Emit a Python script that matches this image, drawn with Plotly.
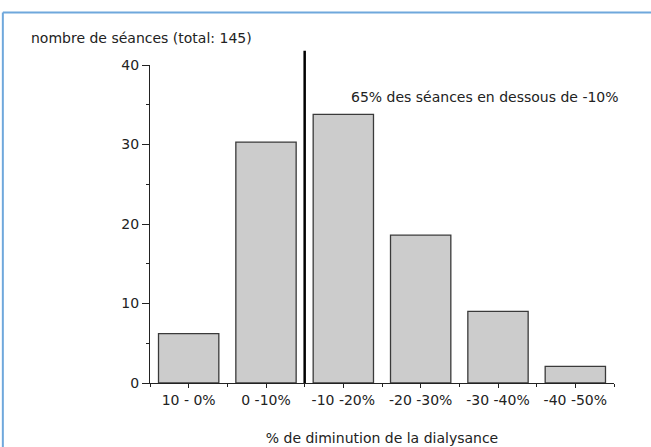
import plotly.graph_objects as go

categories = ["10 - 0%", "0 -10%", "-10 -20%", "-20 -30%", "-30 -40%", "-40 -50%"]
values = [6.2, 30.3, 33.8, 18.6, 9.0, 2.1]
y_ticks = [0, 10, 20, 30, 40]

FONT = "DejaVu Sans"
TXT = "#222222"
FS = 14

idx = list(range(len(categories)))

fig = go.Figure(go.Bar(
    x=idx, y=values,
    marker=dict(color="#cccccc", line=dict(color="#3a3a3a", width=1.3)),
    width=0.78,
    hoverinfo="skip",
))

W, H = 651, 447
L, R, T, B = 150.4, 37.4, 65.3, 64.3
pw, ph = W - L - R, H - T - B

def px_x(px):
    return (px - L) / pw

def px_y(py):
    return (H - B - py) / ph

frame = dict(color="#6fa8dc", width=2)

fig.update_layout(
    width=W, height=H,
    margin=dict(l=L, r=R, t=T, b=B, autoexpand=False),
    paper_bgcolor="white", plot_bgcolor="white",
    font=dict(family=FONT, size=FS, color=TXT),
    showlegend=False,
    title=dict(text="nombre de séances (total: 145)", xref="container", yref="container",
               x=31 / W, y=1 - 38 / H, xanchor="left", yanchor="middle",
               font=dict(family=FONT, size=FS, color=TXT)),
    xaxis=dict(
        range=[-0.5, len(categories) - 0.5],
        tickmode="array", tickvals=idx, ticktext=categories,
        ticks="outside", ticklen=4, tickwidth=1, tickcolor="#222",
        showline=True, linecolor="#222", linewidth=1,
        showgrid=False, zeroline=False,
        minor=dict(tickvals=[i - 0.5 for i in range(len(categories) + 1)],
                   ticks="outside", ticklen=3, tickcolor="#222", showgrid=False),
        tickfont=dict(family=FONT, size=FS, color=TXT),
        title=dict(text="% de diminution de la dialysance", standoff=26,
                   font=dict(family=FONT, size=FS, color=TXT)),
        fixedrange=True,
    ),
    yaxis=dict(
        range=[0, 40],
        tickmode="array", tickvals=y_ticks,
        ticks="outside", ticklen=7, tickwidth=1, tickcolor="#222",
        showline=True, linecolor="#222", linewidth=1,
        showgrid=False, zeroline=False,
        minor=dict(dtick=5, ticks="outside", ticklen=3, tickcolor="#222", showgrid=False),
        tickfont=dict(family=FONT, size=FS, color=TXT),
        fixedrange=True,
    ),
    shapes=[
        dict(type="line", xref="x", yref="paper", x0=1.5, x1=1.5,
             y0=0, y1=px_y(51), line=dict(color="black", width=2.5)),
        dict(type="line", xref="paper", yref="paper",
             x0=px_x(3.5), x1=px_x(660), y0=px_y(12.8), y1=px_y(12.8), line=frame),
        dict(type="line", xref="paper", yref="paper",
             x0=px_x(3.5), x1=px_x(3.5), y0=px_y(12.8), y1=px_y(460), line=frame),
    ],
    annotations=[
        dict(text="65% des séances en dessous de -10%", xref="paper", yref="paper",
             x=px_x(349), y=px_y(97), xanchor="left", yanchor="middle", showarrow=False,
             font=dict(family=FONT, size=FS, color=TXT)),
    ],
)

fig.write_html(
    "out.html",
    config={"displayModeBar": False, "staticPlot": True},
    post_script="document.body.style.margin='0';document.body.style.overflow='hidden';",
)
